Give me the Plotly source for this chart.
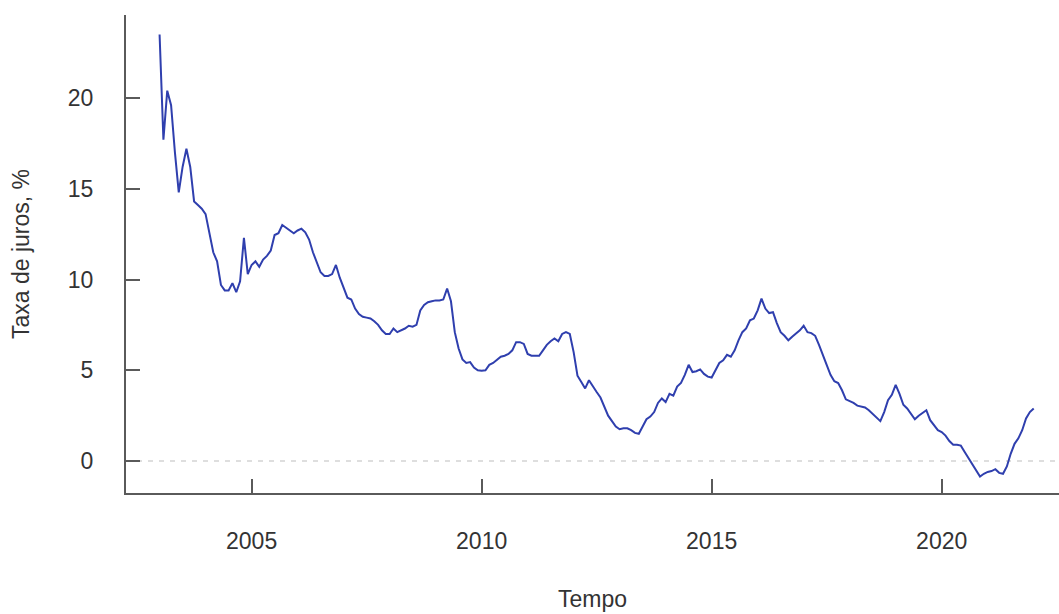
import plotly.graph_objects as go

# Monthly real interest rate (%), January 2003 onward
start_year = 2003
rate_pct = [
    # 2003
    23.5, 17.7, 20.4, 19.6, 17.0, 14.8, 16.2, 17.2, 16.2, 14.3, 14.1, 13.9,
    # 2004
    13.6, 12.6, 11.5, 11.0, 9.7, 9.4, 9.4, 9.8, 9.3, 9.9, 12.3, 10.3,
    # 2005
    10.8, 11.0, 10.7, 11.1, 11.3, 11.6, 12.45, 12.55, 13.0, 12.85, 12.7, 12.55,
    # 2006
    12.7, 12.8, 12.6, 12.2, 11.5, 11.0, 10.4, 10.2, 10.2, 10.3, 10.8, 10.1,
    # 2007
    9.5, 9.0, 8.9, 8.4, 8.1, 7.95, 7.9, 7.85, 7.7, 7.5, 7.2, 7.0,
    # 2008
    7.0, 7.3, 7.1, 7.2, 7.3, 7.45, 7.4, 7.5, 8.3, 8.6, 8.75, 8.8,
    # 2009
    8.85, 8.85, 8.9, 9.5, 8.8, 7.1, 6.2, 5.6, 5.4, 5.45, 5.15, 5.0,
    # 2010
    4.97, 5.0, 5.3, 5.4, 5.55, 5.75, 5.8, 5.9, 6.1, 6.55, 6.55, 6.45,
    # 2011
    5.9, 5.8, 5.8, 5.8, 6.1, 6.4, 6.6, 6.75, 6.6, 7.0, 7.1, 7.0,
    # 2012
    6.0, 4.7, 4.35, 4.0, 4.45, 4.1, 3.8, 3.5, 3.0, 2.5, 2.2, 1.9,
    # 2013
    1.75, 1.8, 1.8, 1.7, 1.55, 1.5, 1.9, 2.3, 2.45, 2.7, 3.2, 3.45,
    # 2014
    3.25, 3.7, 3.6, 4.1, 4.3, 4.75, 5.3, 4.9, 4.95, 5.05, 4.8, 4.65,
    # 2015
    4.6, 5.0, 5.4, 5.55, 5.85, 5.75, 6.1, 6.65, 7.1, 7.3, 7.75, 7.85,
    # 2016
    8.3, 8.95, 8.4, 8.15, 8.2, 7.6, 7.1, 6.9, 6.65, 6.85, 7.0, 7.2,
    # 2017
    7.45, 7.1, 7.05, 6.9, 6.4, 5.9, 5.3, 4.75, 4.4, 4.3, 3.9, 3.4,
    # 2018
    3.3, 3.2, 3.05, 3.0, 2.95, 2.8, 2.6, 2.4, 2.2, 2.7, 3.35, 3.65,
    # 2019
    4.2, 3.7, 3.1, 2.9, 2.6, 2.3, 2.5, 2.65, 2.8, 2.25, 2.0, 1.7,
    # 2020
    1.6, 1.4, 1.1, 0.9, 0.9, 0.85, 0.5, 0.15, -0.2, -0.5, -0.85, -0.7,
    # 2021
    -0.6, -0.55, -0.45, -0.65, -0.7, -0.3, 0.4, 0.95, 1.25, 1.7, 2.35, 2.7,
    # 2022
    2.9,
]

x_ticks = [2005, 2010, 2015, 2020]
y_ticks = [0, 5, 10, 15, 20]

# Time index in decimal years (monthly steps)
time_index = [start_year + i / 12 for i in range(len(rate_pct))]

axis_color = "#5a5a5a"
text_color = "#333333"
font_family = "Liberation Sans, Arial, Helvetica, sans-serif"
font_size = 23

fig = go.Figure()

fig.add_trace(go.Scatter(
    x=time_index,
    y=rate_pct,
    mode="lines",
    line=dict(color="#2f3fae", width=2),
    hoverinfo="x+y",
    showlegend=False,
))

# Dashed reference line at zero
fig.add_shape(
    type="line", xref="paper", x0=0, x1=1, yref="y", y0=0, y1=0,
    line=dict(color="#d4d4d4", width=1.5, dash="5px,6px"),
    layer="below",
)

fig.update_layout(
    width=1059,
    height=614,
    margin=dict(l=126, r=0, t=15, b=121),
    paper_bgcolor="white",
    plot_bgcolor="white",
    font=dict(family=font_family, size=font_size, color=text_color),
    xaxis=dict(
        range=[2002.27, 2022.55],
        tickmode="array",
        tickvals=x_ticks,
        ticktext=[str(v) for v in x_ticks],
        ticks="inside",
        ticklen=14,
        tickwidth=2,
        tickcolor=axis_color,
        showline=True,
        linecolor=axis_color,
        linewidth=2,
        showgrid=False,
        zeroline=False,
        ticklabelstandoff=26,
        tickfont=dict(size=font_size, color=text_color),
        title=dict(text="Tempo", standoff=38, font=dict(size=font_size, color=text_color)),
    ),
    yaxis=dict(
        range=[-1.76, 24.57],
        tickmode="array",
        tickvals=y_ticks,
        ticktext=[str(v) for v in y_ticks],
        ticks="inside",
        ticklen=14,
        tickwidth=2,
        tickcolor=axis_color,
        showline=True,
        linecolor=axis_color,
        linewidth=2,
        showgrid=False,
        zeroline=False,
        ticklabelstandoff=26,
        tickfont=dict(size=font_size, color=text_color),
        title=dict(text="Taxa de juros, %", standoff=32, font=dict(size=font_size, color=text_color)),
    ),
)

fig.write_html("out.html")
